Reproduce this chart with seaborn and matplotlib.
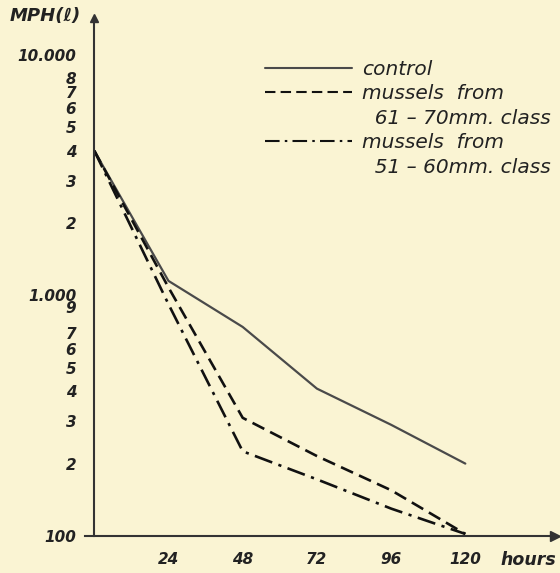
import numpy as np
import pandas as pd
import seaborn as sns
import matplotlib.pyplot as plt
from matplotlib.lines import Line2D

# values (MPN per litre vs hours)
hours = [0, 24, 48, 72, 96, 120]
control = [4000, 1150, 740, 410, 290, 200]
mussels_61_70 = [4000, 1080, 310, 215, 155, 102]
mussels_51_60 = [4000, 920, 225, 172, 130, 102]

series_names = ["control", "mussels 61-70", "mussels 51-60"]
legend_rows = ["control", "mussels  from", "  61 – 70mm. class",
               "mussels  from", "  51 – 60mm. class"]

x_ticks = [24, 48, 72, 96, 120]
y_ticks = [100, 200, 300, 400, 500, 600, 700, 800, 900,
           1000, 2000, 3000, 4000, 5000, 6000, 7000, 8000, 9000, 10000]
y_labels = ["100", "2", "3", "4", "5", "6", "7", "", "9",
            "1.000", "2", "3", "4", "5", "6", "7", "8", "", "10.000"]

df = pd.DataFrame({
    "hours": hours * 3,
    "mpn": control + mussels_61_70 + mussels_51_60,
    "series": [series_names[0]] * 6 + [series_names[1]] * 6 + [series_names[2]] * 6,
})

bg = "#faf4d3"
ink = "#222222"

sns.set_style("white")
plt.rcParams["font.family"] = ["DejaVu Sans"]

fig = plt.figure(figsize=(5.6, 5.73), dpi=100, facecolor=bg)
ax = fig.add_axes([85 / 560, 1 - 536 / 573, 470 / 560, 518 / 573])
ax.set_facecolor(bg)

sns.lineplot(data=df, x="hours", y="mpn", hue="series", style="series",
             palette=["#4a4a4a", "#111111", "#111111"],
             dashes={series_names[0]: "",
                     series_names[1]: (5, 2.5),
                     series_names[2]: (7, 2.5, 1.2, 2.5)},
             ax=ax, legend=True)
for ln, lw in zip(ax.lines[:3], [1.6, 1.9, 1.9]):
    ln.set_linewidth(lw)
handles, _ = ax.get_legend_handles_labels()
ax.get_legend().remove()

ax.set_yscale("log")
ax.set_xlim(-3, 149)
ax.set_ylim(100, 14250)

for s in ["top", "right"]:
    ax.spines[s].set_visible(False)
ax.spines["left"].set_position(("data", 0))
for s in ["left", "bottom"]:
    ax.spines[s].set_color("#333333")
    ax.spines[s].set_linewidth(1.5)

ax.plot(1, 100, ">", color="#333333", ms=7, transform=ax.get_yaxis_transform(), clip_on=False)
ax.plot(0, 1, "^", color="#333333", ms=6, transform=ax.get_xaxis_transform(), clip_on=False)

tfont = dict(fontsize=11, fontstyle="oblique", fontweight="bold", color=ink)
ax.set_xticks(x_ticks)
ax.set_xticklabels([str(t) for t in x_ticks], **tfont)
ax.set_yticks(y_ticks)
ax.set_yticklabels(y_labels, **tfont)
ax.yaxis.set_minor_locator(plt.NullLocator())
ax.tick_params(axis="y", direction="out", length=6, width=1.3, color="#333333", pad=7)
ax.tick_params(axis="x", direction="inout", length=7, width=1.3, color="#333333", pad=8)
ax.set_xlabel("")
ax.set_ylabel("")

fig.text(500 / 560, 1 - 560 / 573, "hours", va="center", ha="left",
         fontsize=12.5, fontstyle="oblique", fontweight="bold", color=ink)
fig.text(10 / 560, 1 - 16 / 573, "MPH(ℓ)", va="center", ha="left",
         fontsize=13, fontstyle="oblique", fontweight="bold", color=ink)

blank = Line2D([], [], linestyle="none")
leg = fig.legend([handles[0], handles[1], blank, handles[2], blank], legend_rows,
                 loc="upper left", bbox_to_anchor=(265 / 560, 1 - 60 / 573),
                 frameon=False, borderpad=0, borderaxespad=0,
                 handlelength=4.3, handletextpad=0.5,
                 labelspacing=0.27, prop=dict(size=14.5, style="oblique"))
for t in leg.get_texts():
    t.set_color(ink)

fig.savefig("out.png", dpi=100, facecolor=bg)
